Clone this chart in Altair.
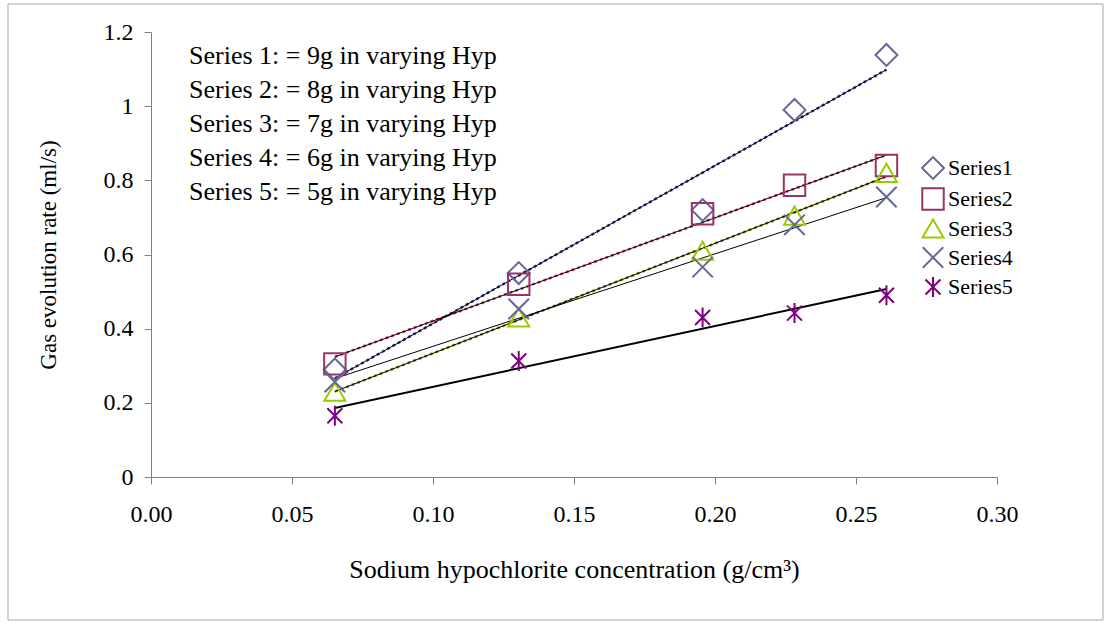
import altair as alt
import pandas as pd

series_names = ["Series1", "Series2", "Series3", "Series4", "Series5"]
conc = [0.0652, 0.1304, 0.1956, 0.2282, 0.2608]
s1 = [0.29, 0.55, 0.72, 0.99, 1.138]
s2 = [0.305, 0.52, 0.71, 0.787, 0.84]
s3 = [0.23, 0.43, 0.61, 0.705, 0.82]
s4 = [0.256, 0.453, 0.566, 0.68, 0.755]
s5 = [0.165, 0.313, 0.43, 0.442, 0.49]
notes = [
    "Series 1: = 9g in varying Hyp",
    "Series 2: = 8g in varying Hyp",
    "Series 3: = 7g in varying Hyp",
    "Series 4: = 6g in varying Hyp",
    "Series 5: = 5g in varying Hyp",
]
x_ticks = [0.0, 0.05, 0.10, 0.15, 0.20, 0.25, 0.30]
y_ticks = [0, 0.2, 0.4, 0.6, 0.8, 1.0, 1.2]

marker_colors = ["#666699", "#993366", "#99CC00", "#666699", "#800080"]
trend_colors = {"Series1": "#333399", "Series2": "#CC3366", "Series3": "#808000"}
shapes = [
    "diamond",
    "square",
    "triangle-up",
    "M-1,-1L1,1M-1,1L1,-1",
    "M-0.75,-0.75L0.75,0.75M-0.75,0.75L0.75,-0.75M0,-1L0,1",
]
sizes = [480, 400, 400, 380, 220]

rows = []
for name, vals in zip(series_names, [s1, s2, s3, s4, s5]):
    for c, v in zip(conc, vals):
        rows.append({"series": name, "conc": c, "val": v})
df = pd.DataFrame(rows)

FONT = "Liberation Serif"
xscale = alt.Scale(domain=[0, 0.3], nice=False, zero=True)
yscale = alt.Scale(domain=[0, 1.2], nice=False)

X = alt.X(
    "conc:Q",
    scale=xscale,
    axis=alt.Axis(
        values=x_ticks,
        format=".2f",
        title="Sodium hypochlorite concentration (g/cm³)",
        labelPadding=18,
        labelFlush=False,
        titlePadding=30,
        titleFontSize=26,
    ),
)
Y = alt.Y(
    "val:Q",
    scale=yscale,
    axis=alt.Axis(
        values=y_ticks,
        format=".1~f",
        title="Gas evolution rate (ml/s)",
        labelPadding=11,
        labelFlush=False,
        titlePadding=43,
        titleFontSize=23,
    ),
)

base = alt.Chart(df)

legend = alt.Legend(
    title=None,
    orient="none",
    legendX=770,
    legendY=124,
    labelFont=FONT,
    labelFontSize=22,
    labelColor="black",
    symbolSize=260,
    symbolStrokeWidth=2,
    rowPadding=1,
    labelOffset=3,
)

points = base.mark_point(filled=False, strokeWidth=2, opacity=1).encode(
    x=X,
    y=Y,
    color=alt.Color("series:N", scale=alt.Scale(domain=series_names, range=marker_colors), legend=legend),
    shape=alt.Shape("series:N", scale=alt.Scale(domain=series_names, range=shapes), legend=legend),
    size=alt.Size("series:N", scale=alt.Scale(domain=series_names, range=sizes), legend=None),
)

reg = base.transform_regression("conc", "val", groupby=["series"])

layers = []
for name, col in trend_colors.items():
    layers.append(
        reg.transform_filter(alt.datum.series == name)
        .mark_line(color=col, strokeWidth=2.5, strokeDash=[3, 3])
        .encode(x=X, y=Y)
    )
for name in ["Series1", "Series2", "Series3", "Series4"]:
    layers.append(
        reg.transform_filter(alt.datum.series == name)
        .mark_line(color="black", strokeWidth=1)
        .encode(x=X, y=Y)
    )
layers.append(
    reg.transform_filter(alt.datum.series == "Series5")
    .mark_line(color="black", strokeWidth=2)
    .encode(x=X, y=Y)
)

note_df = pd.DataFrame({"txt": ["\n".join(notes)]})
note = alt.Chart(note_df).mark_text(
    font=FONT, fontSize=26, align="left", baseline="top", lineBreak="\n", lineHeight=34, color="black"
).encode(text="txt:N", x=alt.value(38), y=alt.value(11))

border = alt.Chart(pd.DataFrame({"a": [0]})).mark_rect(
    fillOpacity=0, stroke="#a6a6a6", strokeWidth=1
).encode(x=alt.value(-143), x2=alt.value(952), y=alt.value(-28), y2=alt.value(588))

chart = alt.layer(border, note, *layers, points).properties(
    width=846,
    height=445,
    autosize=alt.AutoSizeParams(type="none"),
    padding={"left": 151, "top": 32, "right": 114, "bottom": 154},
    background="white",
).configure_view(stroke=None).configure_axis(
    grid=False,
    domainColor="#808080",
    tickColor="#808080",
    tickSize=7,
    labelFont=FONT,
    labelFontSize=24,
    labelColor="black",
    titleFont=FONT,
    titleFontWeight="normal",
    titleColor="black",
)

chart.save("out.html", embed_options={"renderer": "svg", "actions": False})
